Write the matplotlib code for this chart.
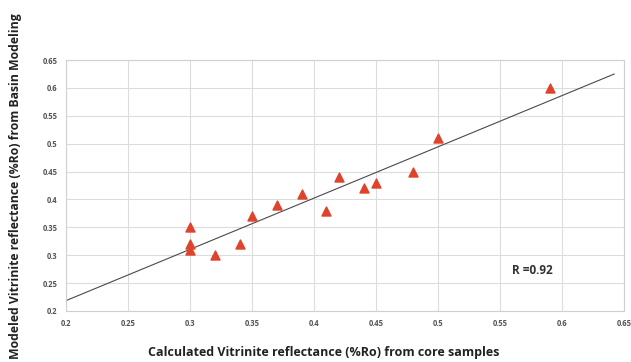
import numpy as np
import matplotlib.pyplot as plt

# Vitrinite reflectance: core samples vs basin model
ro_core = [0.30, 0.30, 0.30, 0.32, 0.34, 0.35, 0.37, 0.39, 0.41, 0.42, 0.44, 0.45, 0.48, 0.50, 0.59]
ro_model = [0.35, 0.32, 0.31, 0.30, 0.32, 0.37, 0.39, 0.41, 0.38, 0.44, 0.42, 0.43, 0.45, 0.51, 0.60]
ticks = [0.2, 0.25, 0.3, 0.35, 0.4, 0.45, 0.5, 0.55, 0.6, 0.65]
tick_labels = ['0.2', '0.25', '0.3', '0.35', '0.4', '0.45', '0.5', '0.55', '0.6', '0.65']

plt.rcParams['font.family'] = ['Open Sans', 'DejaVu Sans']

fig = plt.figure(figsize=(6.31, 3.62), dpi=100)
ax = fig.add_axes([0.1046, 0.141, 0.8844, 0.693])

slope, intercept = np.polyfit(ro_core, ro_model, 1)
x_line = np.array([0.2, 0.642])
ax.plot(x_line, slope * x_line + intercept, color='#4a4a4a', linewidth=0.8, zorder=2)

ax.scatter(ro_core, ro_model, marker='^', s=42, color='#e0432b', zorder=3)

ax.set_xlim(0.2, 0.65)
ax.set_ylim(0.2, 0.65)
ax.set_xticks(ticks)
ax.set_xticklabels(tick_labels)
ax.set_yticks(ticks)
ax.set_yticklabels(tick_labels)
ax.tick_params(length=0, labelsize=5.5, labelcolor='#555555', pad=6)
for lab in ax.get_xticklabels() + ax.get_yticklabels():
    lab.set_fontweight('bold')

ax.grid(True, color='#dcdcdc', linewidth=0.8)
ax.set_axisbelow(True)
for side in ['left', 'bottom', 'right', 'top']:
    ax.spines[side].set_color('#d0d0d0')
    ax.spines[side].set_linewidth(0.8)

ax.text(0.56, 0.272, 'R =0.92', fontsize=8.5, fontweight='bold', color='#333333', va='center')

fig.text(0.513, 0.025, 'Calculated Vitrinite reflectance (%Ro) from core samples',
         ha='center', va='center', fontsize=9, fontweight='bold', color='#222222')
fig.text(0.024, 0.486, 'Modeled Vitrinite reflectance (%Ro) from Basin Modeling',
         ha='center', va='center', rotation=90, fontsize=8.8, fontweight='bold', color='#222222')

fig.savefig('out.png', dpi=100, facecolor='white')
